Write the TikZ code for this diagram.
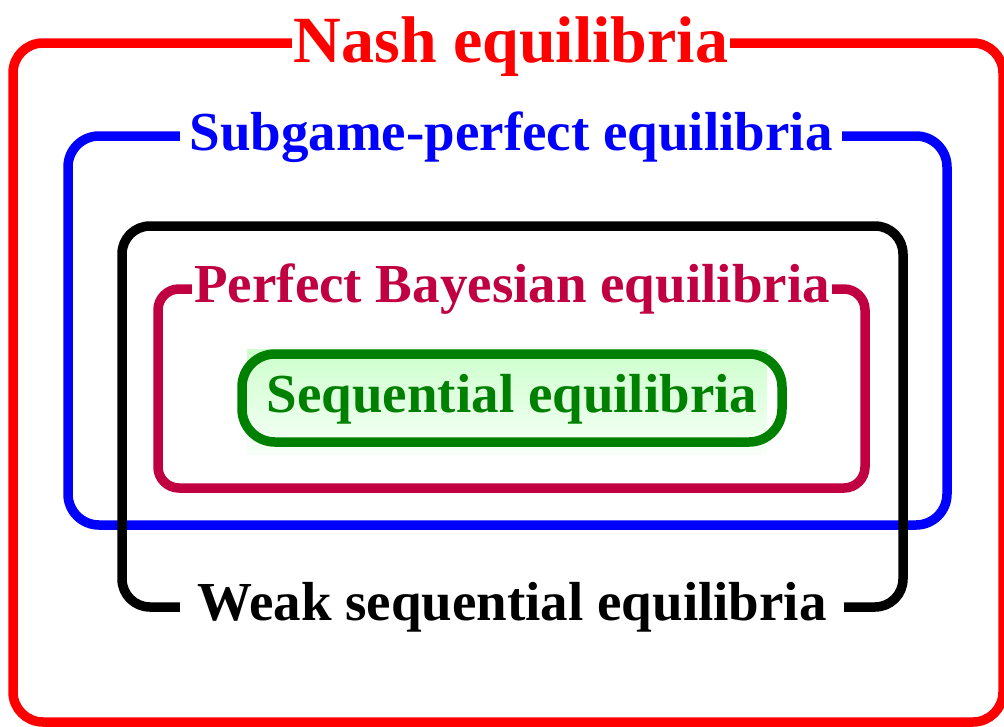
\documentclass[tikz,border=0pt]{standalone}
\usepackage{fontspec}
\setmainfont{Liberation Serif}
\definecolor{EqRed}{HTML}{FF0000}
\definecolor{EqBlue}{HTML}{0000FF}
\definecolor{EqCrimson}{HTML}{C00040}
\definecolor{EqGreen}{HTML}{008000}
\definecolor{EqMint}{HTML}{CCFFCC}
\definecolor{EqPale}{HTML}{F8FFF8}
\tikzset{
  eqset/.style={
    line width=9.5pt,
    rounded corners=#1
  },
  eqset/.default=30pt,
  eqlabel/.style={
    fill=white,
    anchor=base,
    inner ysep=2pt,
    font=\bfseries\fontsize{55}{60}\selectfont
  }
}

\begin{document}
\begin{tikzpicture}[x=1pt,y=-1pt]
    \useasboundingbox (0,0) rectangle (1004,726);
    % nested sets, outermost first
    \draw[eqset,draw=EqRed] (13,43) rectangle (1003,722);
    \draw[eqset=31pt,draw=EqBlue] (68,136) rectangle (947,525);
    \draw[eqset=28pt,draw=black] (122,226) rectangle (903,607);
    \draw[eqset=21pt,draw=EqCrimson] (158,289) rectangle (865,488);
    \shade[top color=EqMint,bottom color=EqPale] (247,349) rectangle (767,454);
    \draw[eqset=33pt,draw=EqGreen] (242,354) rectangle (782,442);
    % labels sit on the borders
    \node[eqlabel,text=EqRed,inner xsep=2pt,font=\bfseries\fontsize{66}{70}\selectfont] (nash) at (511,62) {Nash equilibria};
    \node[eqlabel,text=EqBlue,inner xsep=9pt] (spe) at (511,150) {Subgame-perfect equilibria};
    \node[eqlabel,text=EqCrimson,inner xsep=2.5pt] (pbe) at (512,302) {Perfect Bayesian equilibria};
    \node[eqlabel,text=black,inner xsep=17pt] (wse) at (512,620) {Weak sequential equilibria};
    \node[eqlabel,fill=none,text=EqGreen] (se) at (512,412) {Sequential equilibria};
\end{tikzpicture}
\end{document}
